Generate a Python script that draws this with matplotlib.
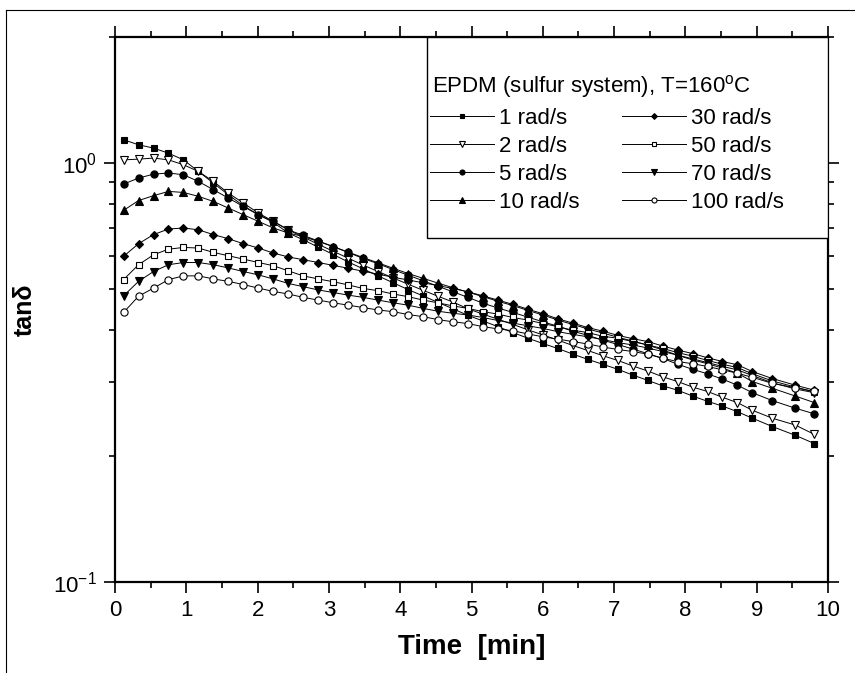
import numpy as np
import matplotlib
matplotlib.use("Agg")
import matplotlib.pyplot as plt
from matplotlib.lines import Line2D
from matplotlib.patches import Rectangle
from matplotlib.ticker import LogLocator, NullFormatter, MultipleLocator

plt.rcParams['font.family'] = ['Liberation Sans', 'DejaVu Sans']
plt.rcParams['mathtext.default'] = 'regular'

# time axis [min]
time = [0.12, 0.33, 0.54, 0.75, 0.96, 1.17, 1.38, 1.59, 1.80, 2.01,
        2.22, 2.43, 2.64, 2.85, 3.06, 3.27, 3.48, 3.69, 3.90, 4.11,
        4.32, 4.53, 4.74, 4.95, 5.16, 5.37, 5.58, 5.79, 6.00, 6.21,
        6.42, 6.63, 6.84, 7.05, 7.26, 7.47, 7.68, 7.89, 8.10, 8.31,
        8.52, 8.73, 8.94, 9.22, 9.54, 9.81]

# tan delta for each frequency
tan_1 = [1.137, 1.106, 1.086, 1.056, 1.018, 0.955, 0.896, 0.840, 0.791, 0.753,
         0.722, 0.681, 0.656, 0.630, 0.605, 0.581, 0.559, 0.538, 0.518, 0.499,
         0.482, 0.465, 0.449, 0.433, 0.420, 0.407, 0.394, 0.382, 0.371, 0.361,
         0.350, 0.340, 0.331, 0.322, 0.312, 0.303, 0.294, 0.287, 0.278, 0.270,
         0.263, 0.255, 0.246, 0.235, 0.224, 0.214]
tan_2 = [1.018, 1.022, 1.028, 1.018, 0.991, 0.955, 0.904, 0.848, 0.803, 0.760,
         0.726, 0.693, 0.666, 0.640, 0.616, 0.593, 0.571, 0.551, 0.532, 0.514,
         0.497, 0.481, 0.466, 0.449, 0.436, 0.424, 0.412, 0.400, 0.389, 0.378,
         0.367, 0.357, 0.347, 0.338, 0.328, 0.319, 0.309, 0.301, 0.292, 0.285,
         0.276, 0.268, 0.257, 0.246, 0.237, 0.225]
tan_5 = [0.891, 0.921, 0.941, 0.947, 0.938, 0.904, 0.864, 0.825, 0.788, 0.753,
         0.726, 0.693, 0.672, 0.652, 0.632, 0.612, 0.592, 0.575, 0.557, 0.540,
         0.524, 0.508, 0.493, 0.478, 0.463, 0.451, 0.440, 0.429, 0.418, 0.408,
         0.397, 0.388, 0.378, 0.369, 0.360, 0.351, 0.342, 0.331, 0.322, 0.314,
         0.305, 0.295, 0.283, 0.271, 0.260, 0.252]
tan_10 = [0.771, 0.814, 0.836, 0.856, 0.851, 0.833, 0.810, 0.781, 0.753, 0.726,
          0.700, 0.681, 0.668, 0.650, 0.632, 0.613, 0.595, 0.578, 0.561, 0.545,
          0.531, 0.517, 0.504, 0.492, 0.480, 0.468, 0.457, 0.445, 0.434, 0.422,
          0.412, 0.402, 0.393, 0.384, 0.376, 0.368, 0.358, 0.348, 0.339, 0.332,
          0.324, 0.315, 0.301, 0.290, 0.278, 0.268]
tan_30 = [0.599, 0.642, 0.675, 0.696, 0.700, 0.693, 0.675, 0.660, 0.642, 0.627,
          0.610, 0.597, 0.588, 0.579, 0.570, 0.561, 0.552, 0.543, 0.534, 0.526,
          0.518, 0.510, 0.502, 0.493, 0.482, 0.471, 0.460, 0.448, 0.437, 0.425,
          0.415, 0.405, 0.397, 0.388, 0.381, 0.375, 0.366, 0.358, 0.351, 0.343,
          0.336, 0.330, 0.318, 0.306, 0.295, 0.287]
tan_50 = [0.527, 0.572, 0.604, 0.623, 0.629, 0.627, 0.612, 0.601, 0.590, 0.579,
          0.569, 0.553, 0.538, 0.529, 0.521, 0.512, 0.502, 0.496, 0.487, 0.480,
          0.471, 0.464, 0.456, 0.450, 0.442, 0.436, 0.428, 0.422, 0.414, 0.407,
          0.399, 0.394, 0.386, 0.382, 0.375, 0.368, 0.361, 0.353, 0.346, 0.338,
          0.331, 0.325, 0.314, 0.302, 0.292, 0.284]
tan_70 = [0.482, 0.522, 0.551, 0.572, 0.579, 0.579, 0.572, 0.562, 0.551, 0.541,
          0.529, 0.516, 0.507, 0.498, 0.491, 0.484, 0.478, 0.471, 0.464, 0.458,
          0.450, 0.443, 0.438, 0.434, 0.428, 0.421, 0.415, 0.409, 0.403, 0.396,
          0.390, 0.385, 0.379, 0.373, 0.368, 0.362, 0.355, 0.348, 0.341, 0.334,
          0.327, 0.321, 0.311, 0.299, 0.289, 0.283]
tan_100 = [0.440, 0.481, 0.503, 0.527, 0.538, 0.538, 0.529, 0.522, 0.513, 0.503,
           0.494, 0.487, 0.478, 0.471, 0.464, 0.458, 0.452, 0.446, 0.442, 0.435,
           0.430, 0.423, 0.418, 0.414, 0.407, 0.402, 0.398, 0.391, 0.385, 0.380,
           0.375, 0.370, 0.364, 0.359, 0.355, 0.350, 0.342, 0.336, 0.332, 0.327,
           0.321, 0.315, 0.308, 0.298, 0.291, 0.285]

labels = ['1 rad/s', '2 rad/s', '5 rad/s', '10 rad/s',
          '30 rad/s', '50 rad/s', '70 rad/s', '100 rad/s']
series = [tan_1, tan_2, tan_5, tan_10, tan_30, tan_50, tan_70, tan_100]
markers = ['s', 'v', 'o', '^', 'D', 's', 'v', 'o']
filled = [True, False, True, True, True, False, True, False]
msizes = [5.0, 5.6, 5.2, 5.6, 4.2, 5.0, 5.6, 5.2]

fig = plt.figure(figsize=(8.55, 6.73), dpi=100)
ax = fig.add_axes([115 / 855, 1 - 582 / 673, (828 - 115) / 855, (582 - 37) / 673])

handles = []
for y, lab, m, f, ms in zip(series, labels, markers, filled, msizes):
    h, = ax.plot(time, y, color='black', lw=0.7, marker=m, ms=ms,
                 mfc='black' if f else 'white', mec='black', mew=0.8,
                 label=lab)
    handles.append(h)

ax.set_yscale('log')
ax.set_ylim(0.1, 2.0)
ax.set_xlim(0, 10)
ax.xaxis.set_major_locator(MultipleLocator(1))
ax.xaxis.set_minor_locator(MultipleLocator(0.5))
ax.yaxis.set_minor_locator(LogLocator(base=10, subs=np.arange(2, 10)))
ax.yaxis.set_minor_formatter(NullFormatter())

ax.tick_params(which='both', direction='out', top=True, right=True,
               labelsize=16, width=1.2)
ax.tick_params(which='major', length=8, pad=5)
ax.tick_params(which='minor', length=4)
for s in ax.spines.values():
    s.set_linewidth(1.6)

ax.set_xlabel('Time  [min]', fontsize=20, fontweight='bold', labelpad=9)
ax.set_ylabel('tanδ', fontsize=18, fontweight='bold', labelpad=12)

# legend box drawn as in the original (wide padding), entries placed inside
box = Rectangle((0.4376, 0.631), 1 - 0.4376, 1 - 0.631, transform=ax.transAxes,
                facecolor='white', edgecolor='black', lw=1.0, zorder=4)
ax.add_patch(box)
ax.text(0.4446, 0.910, 'EPDM (sulfur system), T=160$^{o}$C', fontsize=16,
        transform=ax.transAxes, ha='left', va='center', zorder=5)

leg = ax.legend(handles=handles, ncol=2, loc='upper left',
                bbox_to_anchor=(0.4418, 0.8697), fontsize=16,
                frameon=False, handlelength=2.9, handletextpad=0.2,
                columnspacing=1.9, labelspacing=0.31, markerscale=0.7,
                borderaxespad=0, borderpad=0)
leg.set_zorder(5)

# page frame around the chart
fig.add_artist(Line2D([6 / 855, 6 / 855], [0, 1 - 10 / 673], color='black',
                      lw=0.8, transform=fig.transFigure))
fig.add_artist(Line2D([6 / 855, 1], [1 - 10 / 673, 1 - 10 / 673], color='black',
                      lw=0.8, transform=fig.transFigure))

fig.savefig('out.png', dpi=100)
